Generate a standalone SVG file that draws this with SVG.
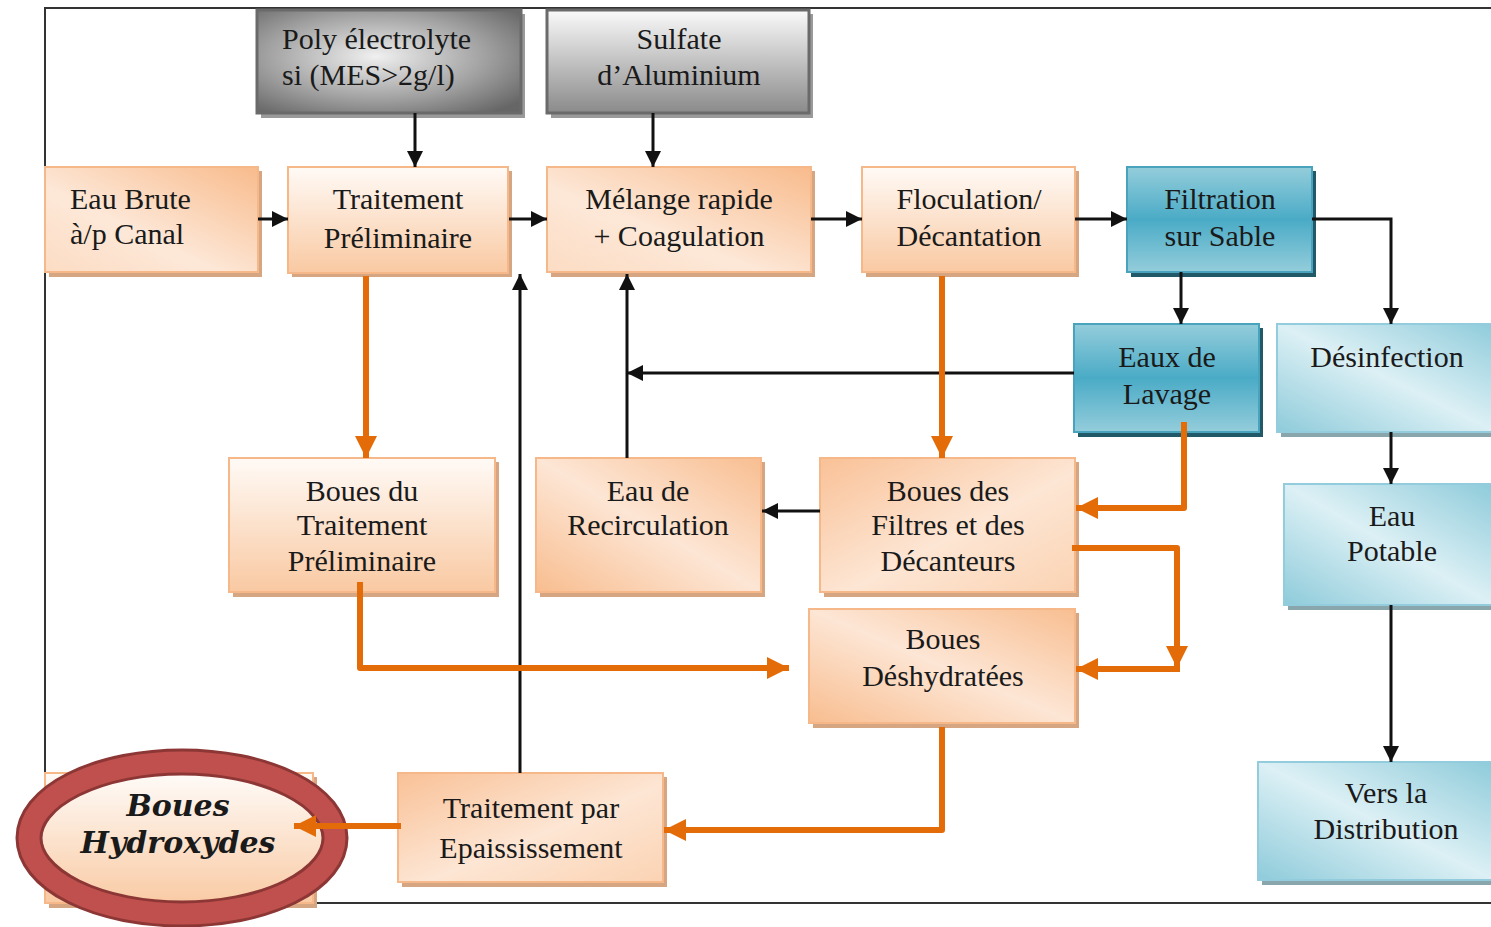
<svg xmlns="http://www.w3.org/2000/svg" width="1491" height="927" viewBox="0 0 1491 927">
<style>
text{font-family:"Liberation Serif","Times New Roman",serif;font-size:30px;fill:#1a1a1a;text-anchor:middle}
.l{text-anchor:start}
.or{stroke:#f7b889;stroke-width:2}
.bl{stroke:#4aa3bd;stroke-width:2}
.lb{stroke:#93cddd;stroke-width:2}
.gr{stroke:#6a6a6a;stroke-width:3}
.sho{fill:#d6a582}
.shb{fill:#215968}
.shl{fill:#8aa6ad}
.shg{fill:#9a9a9a}
.k{fill:none;stroke:#111;stroke-width:3}
.o{fill:none;stroke:#e36c09;stroke-width:6;stroke-linejoin:round}
.hx{font-family:"DejaVu Serif","Liberation Serif",serif;font-weight:bold;font-style:italic;font-size:30px}
</style>
<defs>
<linearGradient id="gO1" x1="0" y1="0" x2="1" y2="1"><stop offset="0" stop-color="#f9c197"/><stop offset="0.55" stop-color="#fde6d4"/><stop offset="1" stop-color="#fbd3b3"/></linearGradient>
<linearGradient id="gO2" x1="1" y1="0" x2="0" y2="1"><stop offset="0" stop-color="#f8bb8c"/><stop offset="0.6" stop-color="#fde8d8"/><stop offset="1" stop-color="#fcdcc3"/></linearGradient>
<linearGradient id="gO3" x1="0" y1="0" x2="0" y2="1"><stop offset="0" stop-color="#fffaf6"/><stop offset="1" stop-color="#f9c9a2"/></linearGradient>
<linearGradient id="gO4" x1="0" y1="1" x2="1" y2="0"><stop offset="0" stop-color="#f8bd8f"/><stop offset="0.5" stop-color="#fde6d5"/><stop offset="1" stop-color="#f8be91"/></linearGradient>
<linearGradient id="gB" x1="0" y1="0" x2="0" y2="1"><stop offset="0" stop-color="#94cddb"/><stop offset="0.5" stop-color="#4aabc6"/><stop offset="1" stop-color="#94cddb"/></linearGradient>
<linearGradient id="gL" x1="0" y1="1" x2="1" y2="0"><stop offset="0" stop-color="#8ecbda"/><stop offset="0.5" stop-color="#dcf0f5"/><stop offset="1" stop-color="#8ecbda"/></linearGradient>
<radialGradient id="gG1" cx="0.45" cy="0.45" r="0.7"><stop offset="0" stop-color="#f0f0f0"/><stop offset="0.6" stop-color="#a0a0a0"/><stop offset="1" stop-color="#666"/></radialGradient>
<linearGradient id="gG2" x1="0" y1="0" x2="0" y2="1"><stop offset="0" stop-color="#fafafa"/><stop offset="1" stop-color="#8a8a8a"/></linearGradient>
<linearGradient id="gE" x1="0" y1="0" x2="0" y2="1"><stop offset="0" stop-color="#ffffff"/><stop offset="1" stop-color="#f9c79e"/></linearGradient>
<marker id="ak" markerUnits="userSpaceOnUse" markerWidth="16" markerHeight="16" viewBox="0 0 16 16" refX="16" refY="8" orient="auto"><path d="M0,0 L16,8 L0,16 z" fill="#111"/></marker>
<marker id="ao" markerUnits="userSpaceOnUse" markerWidth="22" markerHeight="22" viewBox="0 0 22 22" refX="22" refY="11" orient="auto"><path d="M0,0 L22,11 L0,22 z" fill="#e36c09"/></marker>
</defs>

<rect x="45" y="8" width="1470" height="895" fill="#fff" stroke="#333" stroke-width="2"/>

<g id="poly">
<rect class="shg" x="261" y="14" width="264" height="104"/>
<rect class="gr" x="257" y="10" width="264" height="103" fill="url(#gG1)"/>
<text class="l" x="282" y="49">Poly électrolyte</text>
<text class="l" x="282" y="85">si (MES&gt;2g/l)</text>
</g>
<g id="sulfate">
<rect class="shg" x="551" y="14" width="262" height="104"/>
<rect class="gr" x="547" y="10" width="262" height="103" fill="url(#gG2)"/>
<text x="679" y="49">Sulfate</text>
<text x="679" y="85">d’Aluminium</text>
</g>
<g id="eau-brute">
<rect class="sho" x="49" y="171" width="213" height="106"/>
<rect class="or" x="45" y="167" width="213" height="105" fill="url(#gO2)"/>
<text class="l" x="70" y="209">Eau Brute</text>
<text class="l" x="70" y="244">à/p Canal</text>
</g>
<g id="traitement-preliminaire">
<rect class="sho" x="292" y="171" width="220" height="106"/>
<rect class="or" x="288" y="167" width="220" height="106" fill="url(#gO3)"/>
<text x="398" y="209">Traitement</text>
<text x="398" y="248">Préliminaire</text>
</g>
<g id="melange">
<rect class="sho" x="551" y="171" width="264" height="106"/>
<rect class="or" x="547" y="167" width="264" height="105" fill="url(#gO2)"/>
<text x="679" y="209">Mélange rapide</text>
<text x="679" y="246">+ Coagulation</text>
</g>
<g id="floculation">
<rect class="sho" x="866" y="171" width="213" height="106"/>
<rect class="or" x="862" y="167" width="213" height="105" fill="url(#gO3)"/>
<text x="969" y="209">Floculation/</text>
<text x="969" y="246">Décantation</text>
</g>
<g id="filtration">
<rect class="shb" x="1131" y="171" width="185" height="106"/>
<rect class="bl" x="1127" y="167" width="185" height="105" fill="url(#gB)"/>
<text x="1220" y="209">Filtration</text>
<text x="1220" y="246">sur Sable</text>
</g>
<g id="eaux-lavage">
<rect class="shb" x="1078" y="328" width="185" height="109"/>
<rect class="bl" x="1074" y="324" width="185" height="108" fill="url(#gB)"/>
<text x="1167" y="367">Eaux de</text>
<text x="1167" y="404">Lavage</text>
</g>
<g id="desinfection">
<rect class="shl" x="1281" y="328" width="220" height="109"/>
<rect class="lb" x="1277" y="324" width="220" height="108" fill="url(#gL)"/>
<text x="1387" y="367">Désinfection</text>
</g>
<g id="eau-potable">
<rect class="shl" x="1288" y="488" width="210" height="122"/>
<rect class="lb" x="1284" y="484" width="210" height="121" fill="url(#gL)"/>
<text x="1392" y="526">Eau</text>
<text x="1392" y="561">Potable</text>
</g>
<g id="distribution">
<rect class="shl" x="1262" y="766" width="236" height="119"/>
<rect class="lb" x="1258" y="762" width="236" height="118" fill="url(#gL)"/>
<text x="1386" y="803">Vers la</text>
<text x="1386" y="839">Distribution</text>
</g>
<g id="boues-tp">
<rect class="sho" x="233" y="462" width="266" height="135"/>
<rect class="or" x="229" y="458" width="266" height="134" fill="url(#gO3)"/>
<text x="362" y="501">Boues du</text>
<text x="362" y="535">Traitement</text>
<text x="362" y="571">Préliminaire</text>
</g>
<g id="eau-recirculation">
<rect class="sho" x="540" y="462" width="225" height="135"/>
<rect class="or" x="536" y="458" width="225" height="134" fill="url(#gO4)"/>
<text x="648" y="501">Eau de</text>
<text x="648" y="535">Recirculation</text>
</g>
<g id="boues-filtres">
<rect class="sho" x="824" y="462" width="255" height="135"/>
<rect class="or" x="820" y="458" width="255" height="134" fill="url(#gO1)"/>
<text x="948" y="501">Boues des</text>
<text x="948" y="535">Filtres et des</text>
<text x="948" y="571">Décanteurs</text>
</g>
<g id="boues-deshydratees">
<rect class="sho" x="813" y="613" width="266" height="115"/>
<rect class="or" x="809" y="609" width="266" height="114" fill="url(#gO4)"/>
<text x="943" y="649">Boues</text>
<text x="943" y="686">Déshydratées</text>
</g>
<g id="epaississement">
<rect class="sho" x="402" y="777" width="265" height="110"/>
<rect class="or" x="398" y="773" width="265" height="109" fill="url(#gO1)"/>
<text x="531" y="818">Traitement par</text>
<text x="531" y="858">Epaississement</text>
</g>
<g id="boues-hydroxydes">
<rect class="sho" x="49" y="777" width="268" height="131"/>
<rect class="or" x="45" y="773" width="268" height="130" fill="url(#gO3)"/>
<ellipse cx="182" cy="838" rx="153" ry="76" fill="url(#gE)" stroke="#8c3735" stroke-width="27"/>
<ellipse cx="182" cy="838" rx="153" ry="76" fill="none" stroke="#c0504d" stroke-width="21"/>
<text class="hx" x="178" y="816">Boues</text>
<text class="hx" x="178" y="853">Hydroxydes</text>
</g>

<g id="connectors">
<line class="k" x1="415" y1="113" x2="415" y2="167" marker-end="url(#ak)"/>
<line class="k" x1="653" y1="113" x2="653" y2="167" marker-end="url(#ak)"/>
<line class="k" x1="258" y1="219" x2="288" y2="219" marker-end="url(#ak)"/>
<line class="k" x1="509" y1="219" x2="547" y2="219" marker-end="url(#ak)"/>
<line class="k" x1="811" y1="219" x2="862" y2="219" marker-end="url(#ak)"/>
<line class="k" x1="1075" y1="219" x2="1127" y2="219" marker-end="url(#ak)"/>
<line class="k" x1="1181" y1="272" x2="1181" y2="324" marker-end="url(#ak)"/>
<path class="k" d="M1312,219 H1391 V324" marker-end="url(#ak)"/>
<line class="k" x1="1391" y1="432" x2="1391" y2="484" marker-end="url(#ak)"/>
<line class="k" x1="1391" y1="605" x2="1391" y2="762" marker-end="url(#ak)"/>
<line class="k" x1="1074" y1="373" x2="627" y2="373" marker-end="url(#ak)"/>
<line class="k" x1="627" y1="458" x2="627" y2="274" marker-end="url(#ak)"/>
<line class="k" x1="820" y1="511" x2="762" y2="511" marker-end="url(#ak)"/>
<line class="k" x1="520" y1="773" x2="520" y2="274" marker-end="url(#ak)"/>
<line class="o" x1="366" y1="276" x2="366" y2="458" marker-end="url(#ao)"/>
<line class="o" x1="942" y1="276" x2="942" y2="458" marker-end="url(#ao)"/>
<path class="o" d="M1184,422 V508 H1076" marker-end="url(#ao)"/>
<path class="o" d="M1072,548 H1177 V668" marker-end="url(#ao)"/>
<path class="o" d="M1180,669 H1076" marker-end="url(#ao)"/>
<path class="o" d="M360,582 V668 H789" marker-end="url(#ao)"/>
<path class="o" d="M942,727 V830 H664" marker-end="url(#ao)"/>
<line class="o" x1="401" y1="826" x2="294" y2="826" marker-end="url(#ao)"/>
</g>
</svg>
